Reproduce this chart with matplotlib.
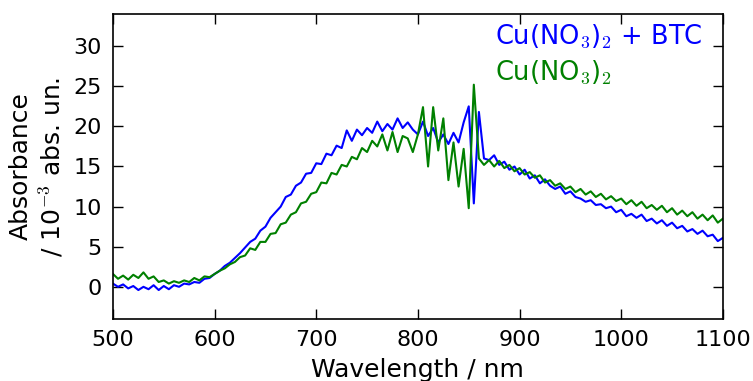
import matplotlib
matplotlib.use('Agg')
from matplotlib import pyplot as plt
import numpy as np

plt.rcParams['mathtext.fontset'] = 'cm'
plt.rcParams['font.family'] = ['DejaVu Sans']

# wavelength grid, 5 nm steps
wavelength = np.arange(500, 1101, 5)

# Cu(NO3)2 + BTC (blue)
abs_btc = [
    0.4, 0.0, 0.3, -0.2, 0.1, -0.4, 0.0, -0.3, 0.2, -0.4,
    0.1, -0.3, 0.2, 0.0, 0.4, 0.3, 0.6, 0.5, 1.0, 1.1,
    1.6, 2.0, 2.6, 3.0, 3.6, 4.2, 4.9, 5.6, 6.0, 7.0,
    7.5, 8.6, 9.3, 10.0, 11.2, 11.5, 12.6, 13.0, 14.1, 14.2,
    15.4, 15.3, 16.6, 16.4, 17.6, 17.3, 19.5, 18.2, 19.6, 18.9,
    19.8, 19.2, 20.6, 19.4, 20.3, 19.6, 21.0, 19.8, 20.5, 19.6,
    19.0, 20.6, 18.8, 19.8, 18.0, 19.0, 17.8, 19.2, 18.0, 20.5,
    22.5, 10.4, 21.8, 16.0, 15.8, 16.4, 15.2, 15.6, 14.6, 15.0,
    14.0, 14.6, 13.5, 13.9, 12.9, 13.4, 12.6, 12.2, 12.5, 11.6,
    11.9, 11.2, 11.0, 10.6, 10.8, 10.2, 10.3, 9.8, 10.0, 9.3,
    9.6, 8.8, 9.1, 8.6, 9.0, 8.2, 8.5, 7.9, 8.3, 7.6,
    8.0, 7.3, 7.6, 6.9, 7.2, 6.6, 7.0, 6.3, 6.5, 5.7,
    6.1,
]

# Cu(NO3)2 (green)
abs_cu = [
    1.6, 1.0, 1.4, 0.9, 1.5, 1.1, 1.8, 1.0, 1.3, 0.6,
    0.8, 0.4, 0.7, 0.5, 0.8, 0.6, 1.1, 0.8, 1.3, 1.2,
    1.6, 2.0, 2.3, 2.8, 3.1, 3.7, 3.9, 4.8, 4.6, 5.6,
    5.6, 6.6, 6.7, 7.8, 8.0, 9.0, 9.3, 10.4, 10.6, 11.6,
    11.8, 13.0, 12.9, 14.2, 14.0, 15.2, 15.0, 16.2, 15.9, 17.3,
    16.8, 18.2, 17.5, 19.0, 17.0, 19.3, 16.8, 18.8, 18.5, 16.8,
    19.0, 22.4, 15.0, 22.4, 17.0, 21.0, 13.3, 18.0, 12.5, 17.2,
    9.8, 25.2, 16.0, 15.2, 15.8, 15.0, 15.7, 14.8, 15.2, 14.4,
    14.8, 14.0, 14.3, 13.6, 13.9, 13.0, 13.3, 12.6, 12.9, 12.2,
    12.5, 11.8, 12.2, 11.5, 11.9, 11.2, 11.6, 10.9, 11.3, 10.7,
    11.0, 10.3, 10.8, 10.1, 10.6, 9.8, 10.2, 9.6, 10.1, 9.3,
    9.8, 9.0, 9.5, 8.8, 9.3, 8.5, 9.0, 8.3, 8.9, 8.0,
    8.5,
]

labels = [r'Cu(NO$_3$)$_2$ + BTC', r'Cu(NO$_3$)$_2$']

fig = plt.figure(figsize=(7.53, 3.81), dpi=100)
ax = fig.add_axes([0.150, 0.163, 0.810, 0.800])

ax.plot(wavelength, abs_btc, color='b', lw=1.5, label=labels[0])
ax.plot(wavelength, abs_cu, color='g', lw=1.5, label=labels[1])

ax.set_xlim(500, 1100)
ax.set_ylim(-4, 34)
ax.set_xticks(np.arange(500, 1101, 100))
ax.set_yticks(np.arange(0, 31, 5))
ax.tick_params(direction='in', top=True, right=True, length=7, width=1,
               labelsize=16, pad=8)
for s in ax.spines.values():
    s.set_linewidth(1.2)

ax.set_xlabel('Wavelength / nm', fontsize=18, labelpad=6)
ax.set_ylabel('Absorbance\n/ 10$^{-3}$ abs. un.', fontsize=18, labelpad=6)

leg = ax.legend(loc='upper right', bbox_to_anchor=(0.967, 0.972),
                frameon=False, handlelength=0, handletextpad=0,
                fontsize=18.5, labelspacing=0.3, borderaxespad=0,
                borderpad=0)
for h in leg.legend_handles:
    h.set_visible(False)
for t, c in zip(leg.get_texts(), ['b', 'g']):
    t.set_color(c)

fig.savefig('out.png', dpi=100)
